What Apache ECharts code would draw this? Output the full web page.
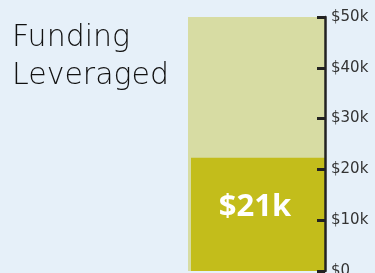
<!DOCTYPE html>
<html>
<head>
<meta charset="utf-8">
<script src="https://cdn.jsdelivr.net/npm/echarts@6/dist/echarts.min.js"></script>
<style>
  html, body { margin: 0; padding: 0; background: #e6f0f9; }
  #chart--funding { width: 375px; height: 273px; }
</style>
</head>
<body>
<div id="chart--funding"></div>
<script>
const categories = ['Funding'];
const goalValues = [50];
const leveragedValues = [22.3];
const leveragedLabels = ['$21k'];
const tickValues = [0, 10, 20, 30, 40, 50];

(() => {
    const chartElement = document.querySelector('#chart--funding');
    const fundingChart = echarts.init(chartElement);
    const fontFamily = 'Open Sans, Lato, sans-serif';
    const wideFont = 'DejaVu Sans, Open Sans, sans-serif';
    fundingChart.setOption({
        animation: false,
        backgroundColor: '#e6f0f9',
        title: {
            text: 'Funding\nLeveraged',
            left: 7,
            top: 14,
            textStyle: {
                color: '#111',
                fontFamily: wideFont,
                fontSize: 30,
                fontWeight: 200,
                lineHeight: 38
            }
        },
        grid: [
            { left: 188, right: 50, top: 17, bottom: 2, outerBoundsMode: 'none' },
            { left: 191, right: 50, top: 17, bottom: 2, outerBoundsMode: 'none' }
        ],
        xAxis: [
            { type: 'category', data: categories, gridIndex: 0, show: false },
            { type: 'category', data: categories, gridIndex: 1, show: false }
        ],
        yAxis: [
            {
                type: 'value',
                gridIndex: 0,
                position: 'right',
                min: tickValues[0],
                max: tickValues[tickValues.length - 1],
                interval: 10,
                splitLine: { show: false },
                axisLine: {
                    show: true,
                    lineStyle: { color: '#222', width: 2.5 }
                },
                axisTick: {
                    show: true,
                    inside: true,
                    length: 8,
                    lineStyle: { color: '#222', width: 3 }
                },
                axisLabel: {
                    margin: 6,
                    color: '#333',
                    fontFamily: wideFont,
                    fontSize: 15,
                    formatter: (value) => value === 0 ? '$0' : `$${value}k`
                },
                z: 5
            },
            {
                type: 'value',
                gridIndex: 1,
                min: tickValues[0],
                max: tickValues[tickValues.length - 1],
                show: false
            }
        ],
        series: [
            {
                type: 'bar',
                xAxisIndex: 0,
                yAxisIndex: 0,
                data: goalValues,
                barWidth: '100%',
                itemStyle: { color: '#d7dca3' },
                silent: true
            },
            {
                type: 'bar',
                xAxisIndex: 1,
                yAxisIndex: 1,
                data: leveragedValues,
                barWidth: '100%',
                itemStyle: { color: '#c3bd1b' },
                label: {
                    show: true,
                    position: 'inside',
                    offset: [-3, -7],
                    color: '#fff',
                    fontFamily,
                    fontSize: 31,
                    fontWeight: 'bold',
                    formatter: (params) => leveragedLabels[params.dataIndex]
                },
                silent: true
            }
        ]
    });
})();
</script>
</body>
</html>
